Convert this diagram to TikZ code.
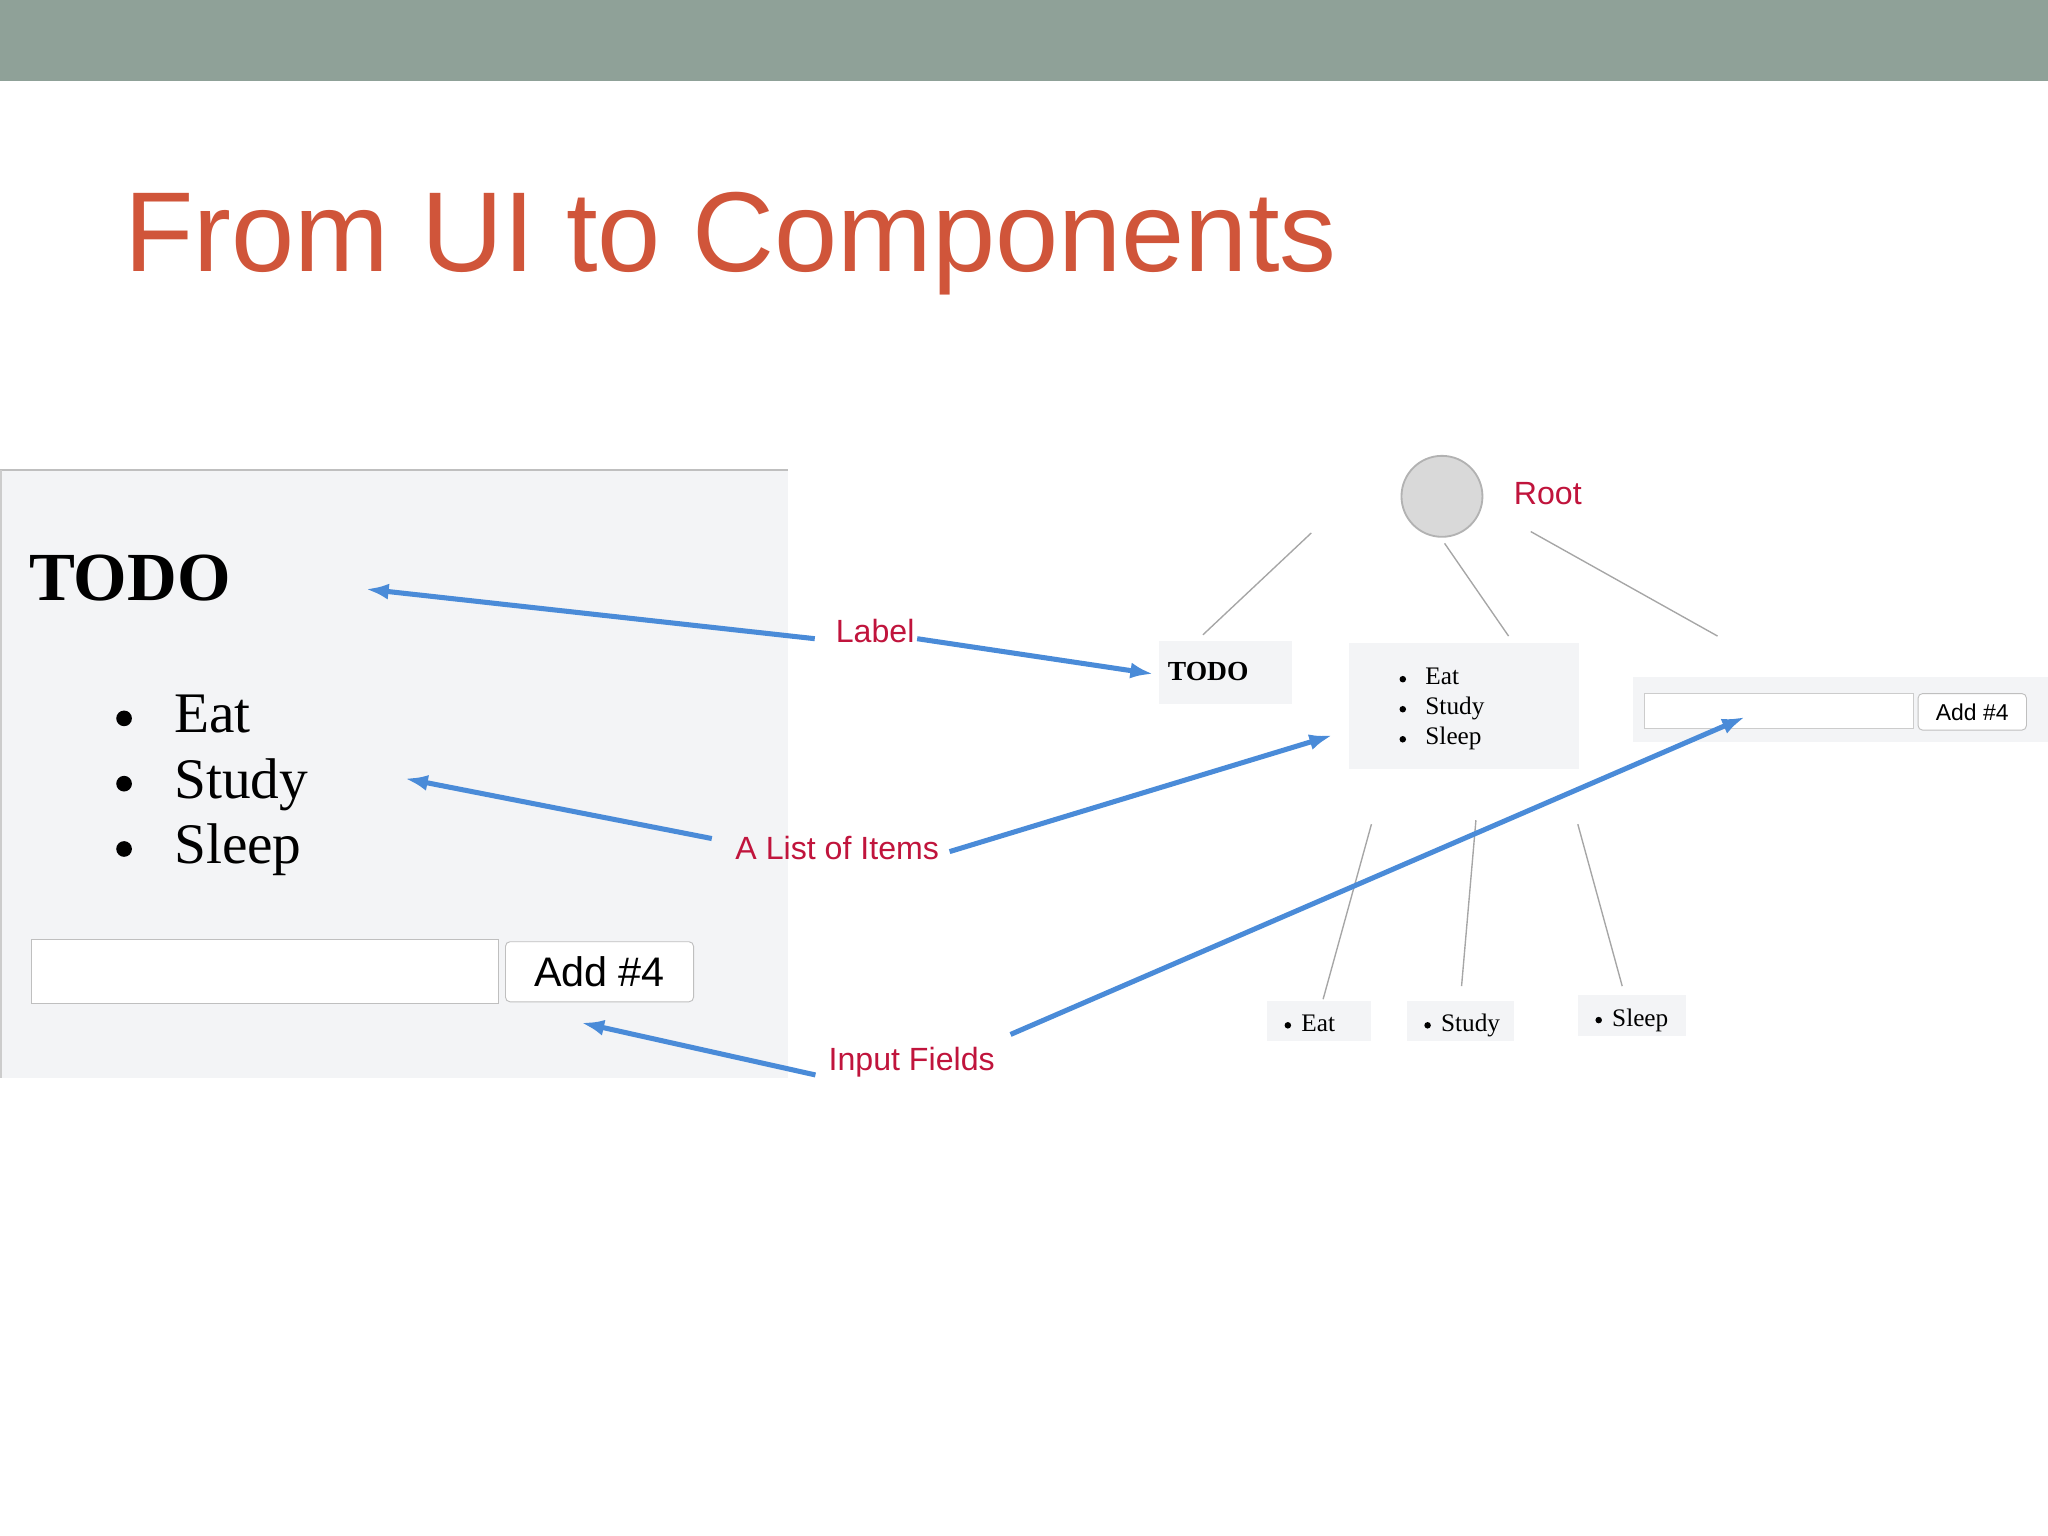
\documentclass[tikz,border=0pt]{standalone}
\usepackage{fontspec}
\setmainfont{Liberation Serif}
\setsansfont{Liberation Sans}
\usetikzlibrary{arrows.meta}
\definecolor{barc}{HTML}{8FA198}
\definecolor{titc}{HTML}{D0553A}
\definecolor{labc}{HTML}{C0143C}
\definecolor{arrc}{HTML}{4A8BD8}
\definecolor{panc}{HTML}{F3F4F6}
\tikzset{
 arr/.style={arrc,line width=2.2pt,-{Latex[length=10pt,width=7pt]}},
 tl/.style={gray!70,line width=0.6pt},
 lab/.style={font=\sffamily\fontsize{14}{16}\selectfont,text=labc,inner sep=1pt},
 box/.style={fill=panc,draw=none},
 btn/.style={draw=gray!50,fill=white,rounded corners=2pt,font=\sffamily},
}
\begin{document}
\begin{tikzpicture}[x=0.02cm,y=-0.02cm]
\useasboundingbox (0,0) rectangle (1568,1176);
\fill[barc] (0,0) rectangle (1568,62);
\node[anchor=base west,inner sep=0,text=titc,font=\sffamily\fontsize{49.5}{54}\selectfont] (title) at (95,208) {From UI to Components};
% left panel
\fill[panc] (0,360) rectangle (603,825);
\draw[gray!50,line width=1pt] (0,360) -- (603,360);
\draw[gray!40,line width=1pt] (1,360) -- (1,825);
\node[anchor=base west,inner sep=0,font=\bfseries\fontsize{30}{32}\selectfont] (todo) at (22,460) {TODO};
\foreach \t/\y in {Eat/561,Study/611,Sleep/661}{
 \node[anchor=base west,inner sep=0,font=\fontsize{25}{28}\selectfont] at (133,\y) {\t};
 \fill (95,\y-11) circle (6);
}
\draw[gray!50,fill=white] (24,719) rectangle (382,768);
\node[btn,minimum width=144*0.02cm,minimum height=46*0.02cm,font=\sffamily\fontsize{18}{20}\selectfont] (add) at (459,744) {Add \#4};
% labels
\node[lab] (label) at (670,483) {Label};
\node[lab] (list) at (641,649) {A List of Items};
\node[lab] (input) at (698,813) {Input Fields};
\node[lab] (root) at (1185,378) {Root};
% tree
\node[circle,draw=gray!60,fill=gray!30,minimum size=62*0.02cm,line width=0.8pt] (rc) at (1104,380) {};
\fill[box] (887,491) rectangle (989,539);
\node[font=\bfseries\fontsize{12}{14}\selectfont] (stodo) at (925,514) {TODO};
\fill[box] (1033,492) rectangle (1209,589);
\foreach \t/\y in {Eat/524,Study/547,Sleep/570}{
 \node[anchor=base west,inner sep=0,font=\fontsize{11}{12}\selectfont] at (1091,\y) {\t};
 \fill (1074,\y-4) circle (2.5);
}
\fill[box] (1250,518) rectangle (1568,568);
\draw[gray!40,fill=white] (1259,531) rectangle (1465,558);
\node[btn,minimum width=83*0.02cm,minimum height=28*0.02cm,font=\sffamily\fontsize{10}{12}\selectfont] at (1510,545) {Add \#4};
\foreach \a/\b/\t/\y in {970/1050/Eat/766,1077/1159/Study/766,1208/1291/Sleep/762}{
 \fill[box] (\a,\y) rectangle (\b,\y+31);
 \node[anchor=base west,inner sep=0,font=\fontsize{11}{12}\selectfont] at (\a+26,\y+24) {\t};
 \fill (\a+16,\y+19) circle (2.5);
}
\draw[tl] (1004,408) -- (921,486);
\draw[tl] (1106,416) -- (1155,487);
\draw[tl] (1172,407) -- (1315,487);
\draw[tl] (1050,631) -- (1013,765);
\draw[tl] (1130,628) -- (1119,755);
\draw[tl] (1208,631) -- (1242,755);
% arrows
\draw[arr] (label.west) ++(-14,6) -- (280,451);
\draw[arr] (label.east) ++(0,6) -- (883,516);
\draw[arr] (list.west) ++(-16,-7) -- (310,596);
\draw[arr] (list.east) ++(6,3) -- (1020,563);
\draw[arr] (input.west) ++(-8,10) -- (445,783);
\draw[arr] (input.east) ++(10,-21) -- (1336,549);
\end{tikzpicture}
\end{document}
